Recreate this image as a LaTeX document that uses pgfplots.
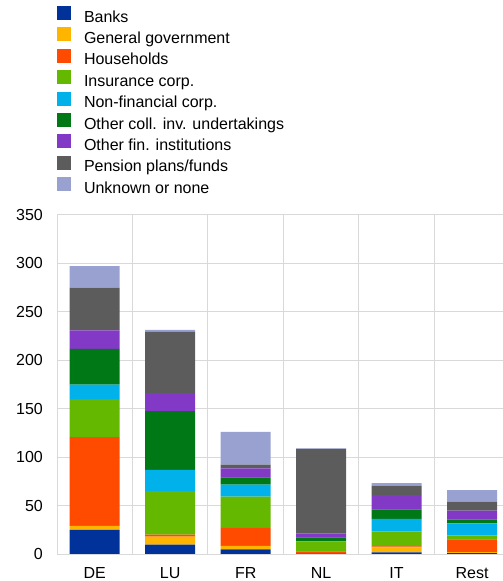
\documentclass[border=0pt]{standalone}
\usepackage{fontspec}
\setmainfont{Liberation Sans}
\usepackage{pgfplots}
\pgfplotsset{compat=1.18}
\definecolor{cBanks}{HTML}{003299}
\definecolor{cGG}{HTML}{FFB400}
\definecolor{cHH}{HTML}{FF4B00}
\definecolor{cIns}{HTML}{65B800}
\definecolor{cNFC}{HTML}{00B1EA}
\definecolor{cOCI}{HTML}{007816}
\definecolor{cOFI}{HTML}{8139C6}
\definecolor{cPen}{HTML}{5C5C5C}
\definecolor{cUnk}{HTML}{98A1D0}
\definecolor{gridc}{HTML}{D9D9D9}
\begin{document}
\begin{tikzpicture}
\begin{axis}[
  at={(57bp,27bp)}, anchor=south west,
  scale only axis, width=446bp, height=339bp,
  ybar stacked, bar width=50bp,
  xmin=-0.5, xmax=5.41, ymin=0, ymax=350,
  xtick={0,1,2,3,4,5},
  xticklabels={DE,LU,FR,NL,IT,Rest},
  minor xtick={0.5,1.5,2.5,3.5,4.5},
  ytick={0,50,...,350},
  ymajorgrids, xminorgrids,
  grid style={gridc, line width=1bp},
  minor grid style={gridc, line width=1bp},
  axis lines*=left,
  axis line style={gridc, line width=1bp},
  separate axis lines,
  x axis line style={draw=none},
  major tick length=0pt, minor tick length=0pt,
  tick style={draw=none},
  font=\fontsize{16bp}{18bp}\selectfont,
  /pgf/number format/assume math mode=true,
  yticklabel style={inner sep=0pt, xshift=-14bp},
  xticklabel style={inner sep=0pt, yshift=-13bp},
  legend cell align=left,
  legend style={at={(0,1.6165)}, anchor=north west, draw=none, fill=none,
    inner sep=0pt, outer sep=0pt, row sep=1.9bp,
    nodes={inner sep=0pt, text height=11.5bp, text depth=3.5bp},
    /tikz/every odd column/.append style={column sep=13bp}},
  legend image code/.code={\fill[#1] (0bp,-2bp) rectangle (14bp,12bp);},
]
\addplot[fill=cBanks, draw=none] coordinates {(0,24.8) (1,9.7) (2,4.8) (3,0.7) (4,1.7) (5,1.0)};
\addlegendentry{Banks}
\addplot[fill=cGG, draw=none] coordinates {(0,4.2) (1,8.3) (2,3.5) (3,0.3) (4,5.2) (5,1.0)};
\addlegendentry{General government}
\addplot[fill=cHH, draw=none] coordinates {(0,91.7) (1,2.0) (2,18.6) (3,1.8) (4,1.0) (5,13.2)};
\addlegendentry{Households}
\addplot[fill=cIns, draw=none] coordinates {(0,39.3) (1,44.8) (2,32.4) (3,10.3) (4,15.5) (5,4.1)};
\addlegendentry{Insurance corp.}
\addplot[fill=cNFC, draw=none] coordinates {(0,14.8) (1,22.1) (2,12.4) (3,0.0) (4,12.8) (5,12.4)};
\addlegendentry{Non-financial corp.}
\addplot[fill=cOCI, draw=none] coordinates {(0,36.9) (1,60.7) (2,7.3) (3,4.1) (4,10.0) (5,3.8)};
\addlegendentry{Other coll. inv. undertakings}
\addplot[fill=cOFI, draw=none] coordinates {(0,19.3) (1,18.6) (2,9.3) (3,3.8) (4,14.5) (5,9.3)};
\addlegendentry{Other fin. institutions}
\addplot[fill=cPen, draw=none] coordinates {(0,44.1) (1,63.1) (2,4.1) (3,87.6) (4,10.0) (5,9.3)};
\addlegendentry{Pension plans/funds}
\addplot[fill=cUnk, draw=none] coordinates {(0,22.0) (1,2.1) (2,33.8) (3,0.4) (4,2.4) (5,11.8)};
\addlegendentry{Unknown or none}
\end{axis}
\pgfresetboundingbox
\useasboundingbox (0,0) rectangle (503bp,581bp);
\end{tikzpicture}
\end{document}
